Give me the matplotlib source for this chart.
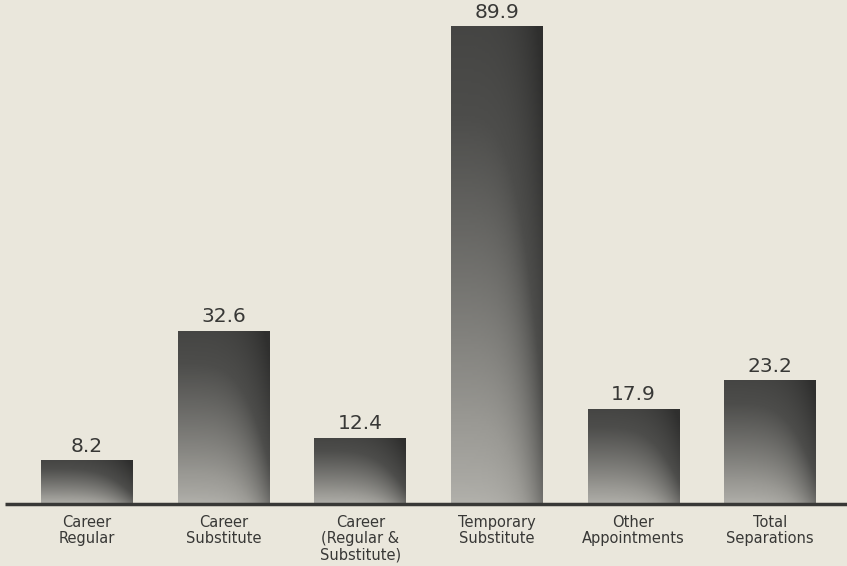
import numpy as np
import matplotlib
matplotlib.use("Agg")
import matplotlib.pyplot as plt
from matplotlib.colors import LinearSegmentedColormap

categories = ["Career\nRegular", "Career\nSubstitute", "Career\n(Regular &\nSubstitute)",
              "Temporary\nSubstitute", "Other\nAppointments", "Total\nSeparations"]
values = [8.2, 32.6, 12.4, 89.9, 17.9, 23.2]

paper = "#eae7dc"
ink = "#383836"

fig = plt.figure(figsize=(8.47, 5.66), dpi=100, facecolor=paper)
ax = fig.add_axes([0, 0, 1, 1], facecolor=paper)

# grey ramp: light at the bottom-left, dark at the top / right edge
cmap = LinearSegmentedColormap.from_list("shade", ["#d6d5cf", "#9a9994", "#4d4d4b", "#2f2f2e"])
ny, nx = 200, 60
t = np.linspace(0, 1, ny)[:, None]
s = np.linspace(0, 1, nx)[None, :]
shade = np.clip(0.2 + 0.55 * t ** 0.8 + 0.3 * s ** 4, 0, 1)

width = 0.67
for i, v in enumerate(values):
    ax.imshow(shade, cmap=cmap, vmin=0, vmax=1, origin="lower", aspect="auto",
              extent=(i - width / 2, i + width / 2, 0, v), interpolation="bilinear", zorder=2)
    ax.text(i, v + 0.9, f"{v}", ha="center", va="bottom", fontsize=14.5, color=ink)
    ax.text(i, -2.0, categories[i], ha="center", va="top", fontsize=10.5, color=ink,
            linespacing=1.1)

# baseline
ax.plot([-0.6, 5.6], [0, 0], color=ink, lw=2.5, solid_capstyle="butt", zorder=3)

ax.set_xlim(-0.637, 5.564)
ax.set_ylim(-11.68, 94.98)
ax.axis("off")

fig.savefig("out.png", dpi=100, facecolor=paper)
